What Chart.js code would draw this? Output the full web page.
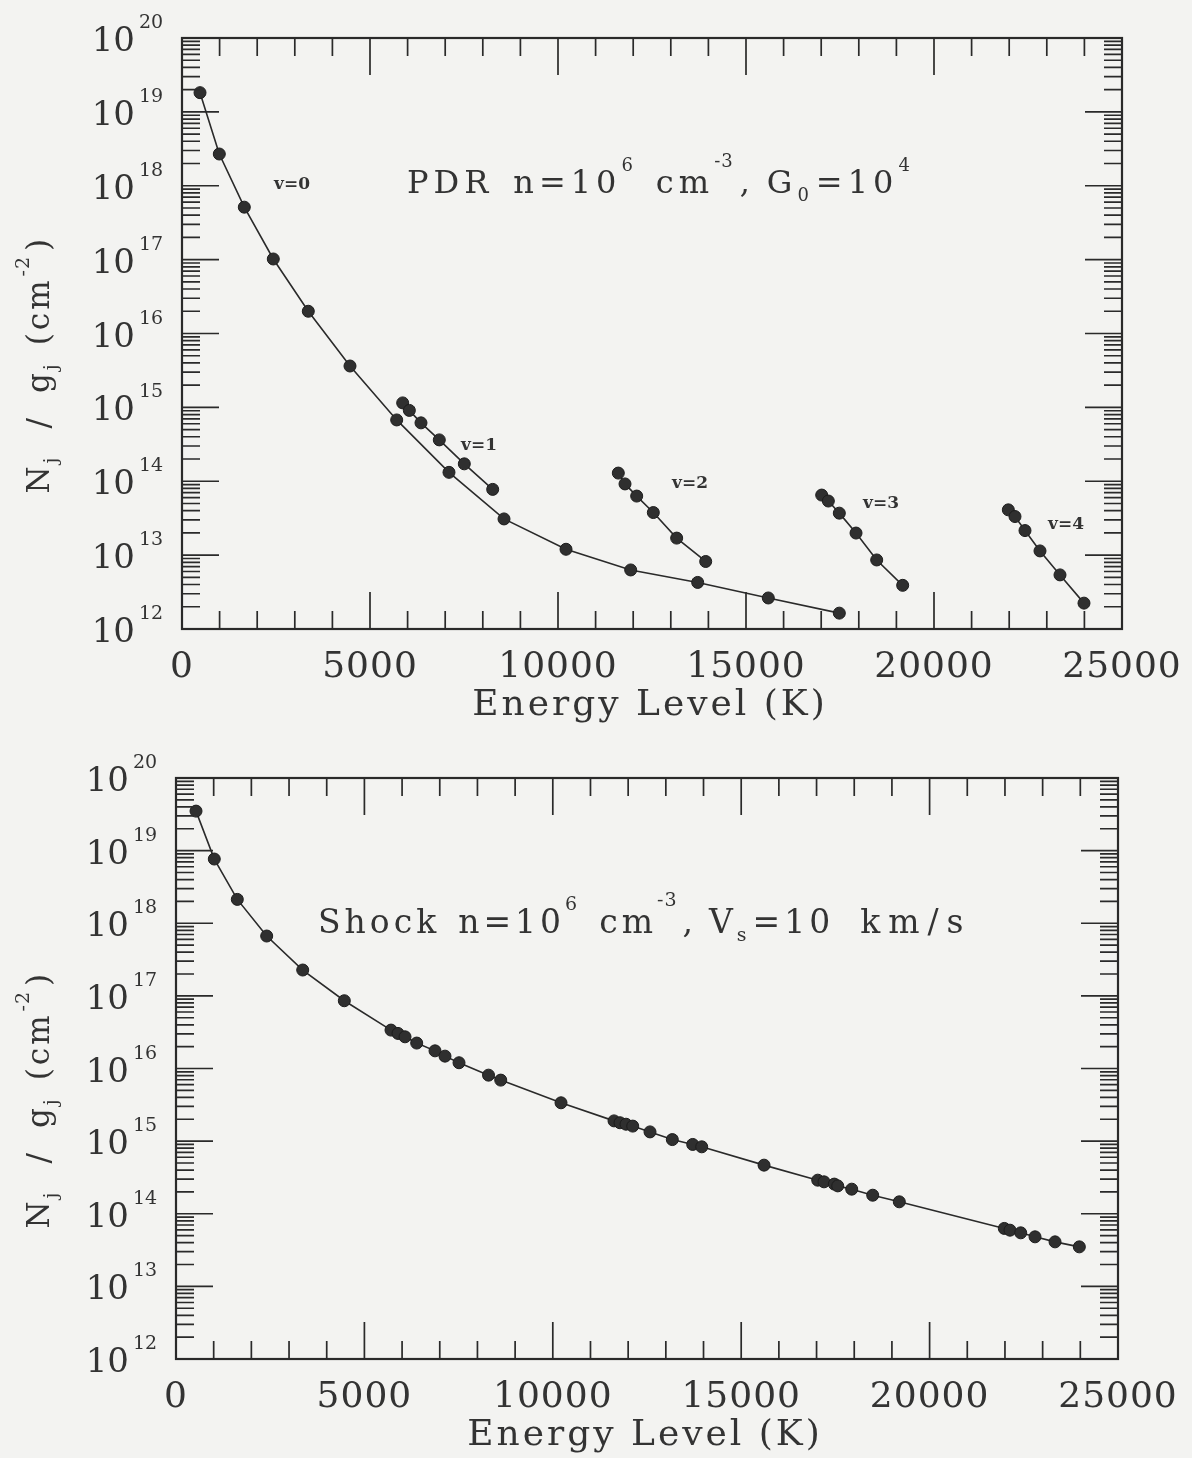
<!DOCTYPE html>
<html>
<head>
<meta charset="utf-8">
<title>H2 excitation diagrams</title>
<script src="https://cdn.jsdelivr.net/npm/chart.js@4.4.0/dist/chart.umd.min.js"></script>
<style>
  html, body { margin: 0; padding: 0; background: #f3f3f1; }
  .panel { width: 1192px; height: 729px; }
  canvas { display: block; }
</style>
</head>
<body>
<div class="panel"><canvas id="pdrChart" width="1192" height="729"></canvas></div>
<div class="panel"><canvas id="shockChart" width="1192" height="729"></canvas></div>
<script>
// ---- data (energy in K, column density N_j/g_j in cm^-2) ----

// PDR model, one line per vibrational level
const pdrV0Energy = [479, 992, 1657, 2428, 3359, 4468, 5710, 7101, 8564, 10213, 11933, 13715, 15593, 17482];
const pdrV0Column = [1.82e19, 2.69e18, 5.13e17, 1.02e17, 2.0e16, 3.63e15, 6.76e14, 1.32e14, 3.09e13, 1.20e13, 6.3e12, 4.27e12, 2.63e12, 1.64e12];

const pdrV1Energy = [5869, 6046, 6356, 6843, 7508, 8263];
const pdrV1Column = [1.15e15, 9.1e14, 6.17e14, 3.63e14, 1.72e14, 7.76e13];

const pdrV2Energy = [11604, 11782, 12093, 12535, 13156, 13928];
const pdrV2Column = [1.29e14, 9.2e13, 6.3e13, 3.77e13, 1.70e13, 8.2e12];

const pdrV3Energy = [17013, 17190, 17482, 17926, 18476, 19167];
const pdrV3Column = [6.5e13, 5.4e13, 3.7e13, 1.99e13, 8.6e12, 3.9e12];

const pdrV4Energy = [21977, 22154, 22420, 22819, 23351, 23989];
const pdrV4Column = [4.1e13, 3.33e13, 2.15e13, 1.14e13, 5.4e12, 2.24e12];

const pdrLevelNames = ["v=0", "v=1", "v=2", "v=3", "v=4"];

// Shock model, all levels on one curve
const shockEnergy = [531, 1016, 1627, 2407, 3363, 4467, 5706, 5892, 6078, 6388, 6874, 7139, 7511, 8294, 8618,
  10218, 11625, 11784, 11943, 12121, 12580, 13172, 13713, 13952, 15606, 17031, 17198, 17471, 17562, 17933,
  18490, 19196, 21983, 22134, 22418, 22798, 23329, 23974];
const shockColumn = [3.5e19, 7.66e18, 2.13e18, 6.67e17, 2.27e17, 8.57e16, 3.38e16, 3.04e16, 2.73e16, 2.24e16, 1.75e16, 1.48e16, 1.20e16, 8.1e15, 6.92e15,
  3.37e15, 1.9e15, 1.79e15, 1.71e15, 1.61e15, 1.34e15, 1.05e15, 9.0e14, 8.35e14, 4.67e14, 2.9e14, 2.75e14, 2.56e14, 2.42e14, 2.18e14,
  1.80e14, 1.46e14, 6.28e13, 5.94e13, 5.46e13, 4.81e13, 4.1e13, 3.5e13];

// axes
const xTickValues = [0, 5000, 10000, 15000, 20000, 25000];
const yTickExponents = [12, 13, 14, 15, 16, 17, 18, 19, 20];

// ---- style ----
const FONT = '"DejaVu Serif", "Liberation Serif", serif';
const INK = "#2a2a2a";
const TEXT = "#333333";
const DOT = "#2f2f2f";

function toPoints(xs, ys) {
  return xs.map((x, i) => ({ x: x, y: ys[i] }));
}

function lineSet(xs, ys) {
  return {
    data: toPoints(xs, ys),
    borderColor: INK,
    borderWidth: 1.6,
    pointRadius: 6,
    pointBackgroundColor: DOT,
    pointBorderColor: "#1c1c1c",
    pointBorderWidth: 1,
    tension: 0,
    clip: false
  };
}

// run of text pieces drawn one after another (t text, s size, dy baseline shift, gap extra space after, ls letter spacing)
function drawRun(ctx, parts, x, y, spacing) {
  parts.forEach(p => {
    const ls = p.ls !== undefined ? p.ls : spacing;
    ctx.font = p.s + "px " + FONT;
    ctx.letterSpacing = "0px";
    const w = ctx.measureText(p.t).width + ls * p.t.length;
    ctx.letterSpacing = ls + "px";
    ctx.fillText(p.t, x, y + (p.dy || 0));
    x += w + (p.gap || 0);
  });
  ctx.letterSpacing = "0px";
}

const yTitleParts = [
  { t: "N", s: 31 }, { t: "j", s: 19, dy: 8, gap: 26 },
  { t: "/", s: 31, gap: 22 },
  { t: "g", s: 31 }, { t: "j", s: 19, dy: 8, gap: 16 },
  { t: "(cm", s: 31, gap: 1 }, { t: "-2", s: 19, dy: -20, ls: 1, gap: 5 },
  { t: ")", s: 31 }
];

// frame, inward ticks, tick labels and titles in the plotting style of the figure
const framePlugin = {
  id: "frame",
  afterDraw(chart, args, opts) {
    const ctx = chart.ctx;
    const a = chart.chartArea;
    const x = chart.scales.x, y = chart.scales.y;
    ctx.save();
    ctx.strokeStyle = INK;
    ctx.fillStyle = TEXT;

    ctx.lineWidth = 2.2;
    ctx.strokeRect(a.left, a.top, a.right - a.left, a.bottom - a.top);

    ctx.lineWidth = 1.7;
    ctx.beginPath();
    for (let e = 0; e <= 25000; e += 1000) {
      const px = x.getPixelForValue(e);
      const len = e % 5000 === 0 ? 37 : 18;
      ctx.moveTo(px, a.bottom); ctx.lineTo(px, a.bottom - len);
      ctx.moveTo(px, a.top); ctx.lineTo(px, a.top + len);
    }
    yTickExponents.forEach(d => {
      for (let m = 1; m <= 9; m++) {
        if (d === 20 && m > 1) break;
        const py = y.getPixelForValue(m * Math.pow(10, d));
        const len = m === 1 ? 37 : 18;
        ctx.moveTo(a.left, py); ctx.lineTo(a.left + len, py);
        ctx.moveTo(a.right, py); ctx.lineTo(a.right - len, py);
      }
    });
    ctx.stroke();

    // x tick labels and title
    ctx.textAlign = "center";
    ctx.letterSpacing = "1px";
    ctx.font = "36px " + FONT;
    xTickValues.forEach(v => {
      ctx.fillText(String(v), x.getPixelForValue(v), a.bottom + 48);
    });
    ctx.letterSpacing = "3px";
    ctx.fillText("Energy Level (K)", (a.left + a.right) / 2 - 2, a.bottom + 86);
    ctx.letterSpacing = "0px";

    // y tick labels 10^n
    yTickExponents.forEach(d => {
      const py = y.getPixelForValue(Math.pow(10, d));
      ctx.textAlign = "right";
      ctx.font = "34px " + FONT;
      ctx.fillText("10", a.left - 47, py + 13);
      ctx.textAlign = "left";
      ctx.font = "19px " + FONT;
      ctx.fillText(String(d), a.left - 43, py - 10);
    });

    // y title, rotated
    ctx.textAlign = "left";
    ctx.save();
    ctx.translate(49, (a.top + a.bottom) / 2);
    ctx.rotate(-Math.PI / 2);
    drawRun(ctx, yTitleParts, -160, 0, 3);
    ctx.restore();

    // model caption
    drawRun(ctx, opts.caption, opts.captionX, opts.captionY, opts.captionSpacing);

    // level labels placed in data coordinates
    (opts.levelLabels || []).forEach(l => {
      ctx.font = "bold 17px " + FONT;
      ctx.textAlign = "center";
      ctx.fillText(l.text, x.getPixelForValue(l.x), y.getPixelForValue(l.y) + 6);
    });
    ctx.restore();
  }
};

function makeChart(id, datasets, padding, frameOpts) {
  return new Chart(document.getElementById(id), {
    type: "line",
    data: { datasets: datasets },
    options: {
      responsive: false,
      animation: false,
      layout: { padding: padding },
      plugins: { legend: { display: false }, tooltip: { enabled: false }, frame: frameOpts },
      scales: {
        x: { type: "linear", min: 0, max: 25000, display: false },
        y: { type: "logarithmic", min: 1e12, max: 1e20, display: false }
      }
    },
    plugins: [framePlugin]
  });
}

makeChart("pdrChart", [
  lineSet(pdrV0Energy, pdrV0Column),
  lineSet(pdrV1Energy, pdrV1Column),
  lineSet(pdrV2Energy, pdrV2Column),
  lineSet(pdrV3Energy, pdrV3Column),
  lineSet(pdrV4Energy, pdrV4Column)
], { left: 182, right: 70, top: 38, bottom: 100 }, {
  caption: [
    { t: "PDR", s: 32, gap: 20 },
    { t: "n=10", s: 32 }, { t: "6", s: 18, dy: -22, gap: 18 },
    { t: "cm", s: 32 }, { t: "-3", s: 18, dy: -26, ls: 1, gap: 6 },
    { t: ",", s: 32, gap: 12 },
    { t: "G", s: 32 }, { t: "0", s: 18, dy: 8, gap: 2 },
    { t: "=10", s: 32, gap: 0 }, { t: "4", s: 18, dy: -22 }
  ],
  captionX: 407, captionY: 193, captionSpacing: 5,
  levelLabels: [
    { text: pdrLevelNames[0], x: 2926, y: 1.1e18 },
    { text: pdrLevelNames[1], x: 7899, y: 3.2e14 },
    { text: pdrLevelNames[2], x: 13511, y: 9.7e13 },
    { text: pdrLevelNames[3], x: 18590, y: 5.2e13 },
    { text: pdrLevelNames[4], x: 23511, y: 2.7e13 }
  ]
});

makeChart("shockChart", [
  lineSet(shockEnergy, shockColumn)
], { left: 176, right: 74, top: 49, bottom: 99 }, {
  caption: [
    { t: "Shock", s: 33, gap: 18 },
    { t: "n=10", s: 33 }, { t: "6", s: 19, dy: -23, gap: 18 },
    { t: "cm", s: 33 }, { t: "-3", s: 19, dy: -27, ls: 1, gap: 5 },
    { t: ",", s: 33, gap: 12 },
    { t: "V", s: 33 }, { t: "s", s: 19, dy: 8, gap: 2 },
    { t: "=10", s: 33, gap: 26 },
    { t: "km/s", s: 33, ls: 8 }
  ],
  captionX: 318, captionY: 204, captionSpacing: 4
});
</script>
</body>
</html>
